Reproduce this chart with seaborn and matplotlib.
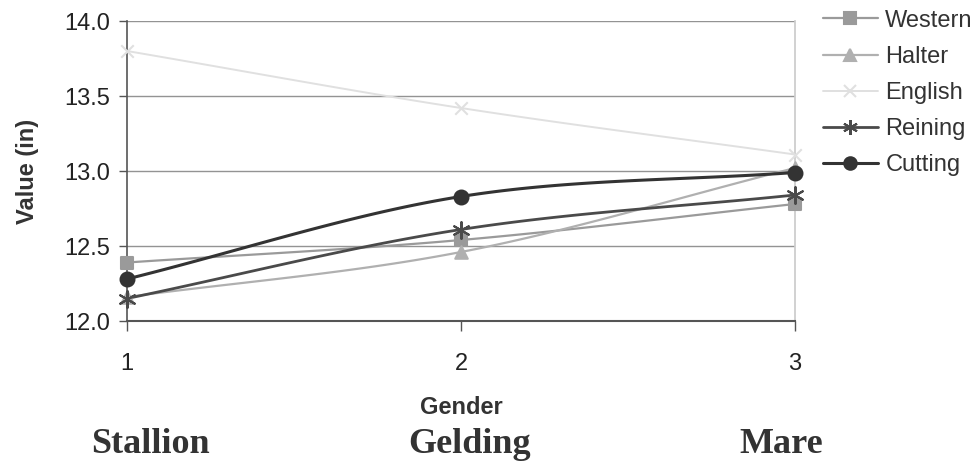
import numpy as np
import pandas as pd
import matplotlib
matplotlib.use("Agg")
import matplotlib.pyplot as plt
import seaborn as sns
from matplotlib.lines import Line2D

# ---- data ----
gender_codes = [1, 2, 3]
gender_names = ["Stallion", "Gelding", "Mare"]
western = [12.39, 12.54, 12.78]
halter = [12.16, 12.46, 13.02]
english = [13.80, 13.42, 13.11]
reining = [12.15, 12.61, 12.84]
cutting = [12.28, 12.83, 12.99]

series = {"Western": western, "Halter": halter, "English": english,
          "Reining": reining, "Cutting": cutting}
styles = {
    "Western": dict(color="#9a9a9a", marker="s", ms=9, lw=1.6),
    "Halter": dict(color="#b0b0b0", marker="^", ms=9, lw=1.6),
    "English": dict(color="#e0e0e0", marker="x", ms=9, lw=1.4),
    "Reining": dict(color="#4a4a4a", marker=(6, 2, 0), ms=12, lw=2.0),
    "Cutting": dict(color="#333333", marker="o", ms=10, lw=2.2),
}

rows = []
for name, vals in series.items():
    for g, v in zip(gender_codes, vals):
        rows.append(dict(Gender=g, Value=v, Series=name))
df = pd.DataFrame(rows)

sns.set_theme(style="white")
plt.rcParams['font.family'] = ['Liberation Sans', 'DejaVu Sans']

fig = plt.figure(figsize=(9.78, 4.65), dpi=100)
ax = fig.add_axes([127/978, 1-321/465, (795-127)/978, 300/465])


def smooth(xs, ys, n=40):
    # Catmull-Rom style smoothing between points (rendering only)
    xs = np.asarray(xs, float); ys = np.asarray(ys, float)
    px = np.concatenate([[2*xs[0]-xs[1]], xs, [2*xs[-1]-xs[-2]]])
    py = np.concatenate([[2*ys[0]-ys[1]], ys, [2*ys[-1]-ys[-2]]])
    ox, oy = [], []
    for i in range(1, len(px)-2):
        t = np.linspace(0, 1, n)
        def cr(a0, a1, a2, a3):
            return 0.5*((2*a1) + (-a0+a2)*t + (2*a0-5*a1+4*a2-a3)*t**2 + (-a0+3*a1-3*a2+a3)*t**3)
        ox.append(cr(px[i-1], px[i], px[i+1], px[i+2]))
        oy.append(cr(py[i-1], py[i], py[i+1], py[i+2]))
    return np.concatenate(ox), np.concatenate(oy)


for name in ["English", "Western", "Halter", "Reining", "Cutting"]:
    st = styles[name]
    sub = df[df.Series == name]
    sx, sy = smooth(sub.Gender.values, sub.Value.values)
    ax.plot(sx, sy, color=st["color"], lw=st["lw"], zorder=2, clip_on=False)
    sns.scatterplot(data=sub, x="Gender", y="Value", ax=ax, marker=st["marker"],
                    s=st["ms"]**2, color=st["color"], edgecolor=st["color"],
                    linewidth=1.5, zorder=3, clip_on=False, legend=False)

ax.set_xlim(1, 3)
ax.set_ylim(12.0, 14.0)
ax.set_yticks([12.0, 12.5, 13.0, 13.5, 14.0])
ax.set_yticklabels(["12.0", "12.5", "13.0", "13.5", "14.0"], fontsize=17, color="#222222")
ax.set_xticks(gender_codes)
ax.set_xticklabels([str(g) for g in gender_codes], fontsize=17, color="#222222")
ax.tick_params(axis="x", direction="out", length=7, width=1, color="#555555", pad=16, bottom=True)
ax.tick_params(axis="y", direction="out", length=6, width=1, color="#555555", pad=6, left=True)
ax.grid(axis="y", color="#939393", lw=1)
ax.set_axisbelow(True)
ax.spines["top"].set_visible(False)
ax.spines["right"].set_color("#cccccc")
ax.spines["left"].set_color("#555555")
ax.spines["bottom"].set_color("#555555")
ax.spines["left"].set_linewidth(1.2)
ax.spines["bottom"].set_linewidth(1.5)

ax.set_ylabel("Value (in)", fontsize=17, fontweight="bold", color="#333333", labelpad=18)
ax.set_xlabel("Gender", fontsize=17, fontweight="bold", color="#333333", labelpad=15)

handles = []
for name in ["Western", "Halter", "English", "Reining", "Cutting"]:
    st = styles[name]
    handles.append(Line2D([0], [0], color=st["color"], lw=st["lw"], marker=st["marker"],
                          ms=st["ms"]*0.9, markeredgecolor=st["color"], markerfacecolor=st["color"],
                          markeredgewidth=1.5))
leg = fig.legend(handles, ["Western", "Halter", "English", "Reining", "Cutting"],
                 loc="upper left", bbox_to_anchor=(818/978, 1-5/465), frameon=False,
                 fontsize=17, handlelength=2.35, labelspacing=0.6, handletextpad=0.3,
                 borderaxespad=0.0, borderpad=0.2)
for t in leg.get_texts():
    t.set_color("#333333")

for name, xc in zip(gender_names, [150, 470, 781]):
    fig.text(xc/978, 1-444/465, name, ha="center", va="center",
             fontsize=26, fontweight="bold", family="Liberation Serif", color="#333333")

fig.savefig("out.png", dpi=100)
